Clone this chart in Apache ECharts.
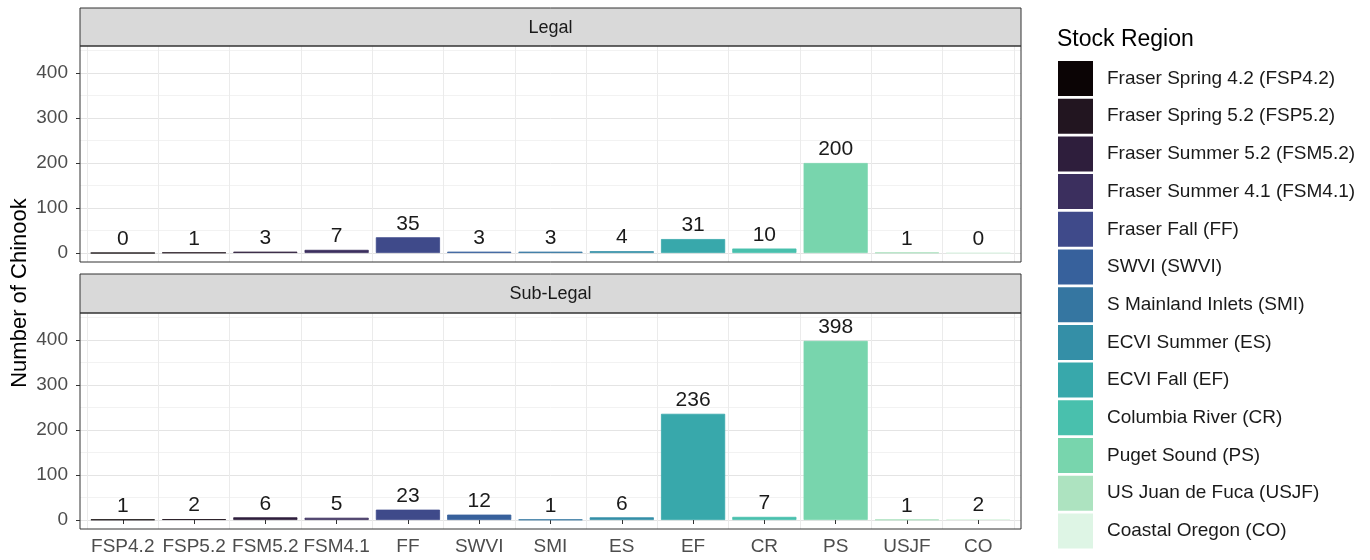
<!DOCTYPE html>
<html>
<head>
<meta charset="utf-8">
<script src="https://cdn.jsdelivr.net/npm/echarts@6/dist/echarts.min.js"></script>
<style>
  html, body { margin: 0; padding: 0; background: #fff; }
  #chartBox { width: 1370px; height: 560px; }
</style>
</head>
<body>
<div id="chartBox"></div>
<script>
// data
const categories = ["FSP4.2", "FSP5.2", "FSM5.2", "FSM4.1", "FF", "SWVI", "SMI", "ES", "EF", "CR", "PS", "USJF", "CO"];
const stockNames = [
  "Fraser Spring 4.2 (FSP4.2)", "Fraser Spring 5.2 (FSP5.2)", "Fraser Summer 5.2 (FSM5.2)",
  "Fraser Summer 4.1 (FSM4.1)", "Fraser Fall (FF)", "SWVI (SWVI)", "S Mainland Inlets (SMI)",
  "ECVI Summer (ES)", "ECVI Fall (EF)", "Columbia River (CR)", "Puget Sound (PS)",
  "US Juan de Fuca (USJF)", "Coastal Oregon (CO)"
];
const legalValues = [0, 1, 3, 7, 35, 3, 3, 4, 31, 10, 200, 1, 0];
const subLegalValues = [1, 2, 6, 5, 23, 12, 1, 6, 236, 7, 398, 1, 2];
const panelNames = ["Legal", "Sub-Legal"];
const yTicks = [0, 100, 200, 300, 400];

// mako-like palette
const colors = ["#0b0405", "#221520", "#2e1e3c", "#3b2f5e", "#3f4a8a", "#37619c", "#3576a1",
  "#348fa7", "#38a8ab", "#49c0ad", "#78d5ad", "#ade3c0", "#def5e5"];

const FONT = "Liberation Sans, Arial, sans-serif";
const panelLeft = 80, panelRight = 1021;
const unit = (panelRight - panelLeft) / 13.2; // ggplot discrete expand 0.6
// panel top / bottom, and pixel of value 0
const panels = [
  { top: 46, bottom: 262, zero: 253, stripTop: 8 },
  { top: 313, bottom: 529, zero: 520, stripTop: 274 },
];
const pxPer = 0.45;

const grids = [], xAxes = [], yAxes = [], series = [], graphics = [];

panels.forEach((pn, p) => {
  // gridlines grid (0..450, major/minor alternating colours)
  grids.push({ left: panelLeft, right: 1370 - panelRight, top: pn.zero - 450 * pxPer, height: 450 * pxPer });
  xAxes.push({ type: "value", gridIndex: p * 3, show: false });
  yAxes.push({
    type: "value", gridIndex: p * 3, min: 0, max: 450, interval: 50,
    axisLine: { show: false }, axisTick: { show: false }, axisLabel: { show: false },
    splitLine: { show: true, lineStyle: { color: ["#e4e4e4", "#f2f2f2"], width: 1 } },
  });
  // label grid (0..400)
  grids.push({ left: panelLeft, right: 1370 - panelRight, top: pn.zero - 400 * pxPer, height: 400 * pxPer });
  xAxes.push({ type: "value", gridIndex: p * 3 + 1, show: false });
  yAxes.push({
    type: "value", gridIndex: p * 3 + 1, min: yTicks[0], max: yTicks[yTicks.length - 1], interval: 100,
    axisLine: { show: false },
    axisTick: { show: true, length: 4, lineStyle: { color: "#333" } },
    axisLabel: { margin: 12, fontSize: 19, color: "#4d4d4d", fontFamily: FONT },
    splitLine: { show: false },
  });
  // bar grid
  grids.push({
    left: panelLeft + unit * 0.1, right: 1370 - panelRight + unit * 0.1,
    top: pn.top, height: pn.bottom - pn.top,
  });
  xAxes.push({
    type: "category", gridIndex: p * 3 + 2, data: categories,
    axisLine: { show: false },
    axisTick: { show: p === 1, alignWithLabel: true, length: 4, lineStyle: { color: "#333" } },
    axisLabel: { show: p === 1, margin: 8, fontSize: 19, color: "#4d4d4d", fontFamily: FONT, interval: 0 },
    splitLine: { show: true, interval: 0, lineStyle: { color: "#ebebeb", width: 1 } },
  });
  yAxes.push({
    type: "value", gridIndex: p * 3 + 2, show: false,
    min: -(pn.bottom - pn.zero) / pxPer, max: (pn.zero - pn.top) / pxPer,
    splitLine: { show: false },
  });

  const vals = p === 0 ? legalValues : subLegalValues;
  categories.forEach((cat, i) => {
    series.push({
      name: stockNames[i],
      type: "bar",
      xAxisIndex: p * 3 + 2,
      yAxisIndex: p * 3 + 2,
      stack: "panel" + p,
      barWidth: "90%",
      data: categories.map((c, j) => (j === i ? vals[i] : "-")),
      itemStyle: { color: colors[i], borderColor: colors[i], borderWidth: 0.8 },
      label: {
        show: true, position: "top", distance: 3,
        fontSize: 21, color: "#1a1a1a", fontFamily: FONT,
      },
      emphasis: { disabled: true },
    });
  });

  // strip
  graphics.push({
    type: "rect", z: 100,
    shape: { x: panelLeft, y: pn.stripTop, width: panelRight - panelLeft, height: pn.top - pn.stripTop },
    style: { fill: "#d9d9d9", stroke: "#333", lineWidth: 1 },
  });
  graphics.push({
    type: "text", z: 101,
    x: (panelLeft + panelRight) / 2, y: (pn.stripTop + pn.top) / 2 + 1,
    style: { text: panelNames[p], fontSize: 18, fill: "#1a1a1a", fontFamily: FONT, textAlign: "center", textVerticalAlign: "middle" },
  });
  // panel border
  graphics.push({
    type: "rect", z: 100,
    shape: { x: panelLeft, y: pn.top, width: panelRight - panelLeft, height: pn.bottom - pn.top },
    style: { fill: "transparent", stroke: "#333", lineWidth: 1 },
  });
});

// y axis title and legend title
graphics.push({
  type: "text", z: 101, x: 20, y: 293, rotation: Math.PI / 2,
  style: { text: "Number of Chinook", fontSize: 22, fill: "#000", fontFamily: FONT, textAlign: "center", textVerticalAlign: "middle" },
});
graphics.push({
  type: "text", z: 101, x: 1057, y: 40,
  style: { text: "Stock Region", fontSize: 23, fill: "#000", fontFamily: FONT, textAlign: "left", textVerticalAlign: "middle" },
});

const chart = echarts.init(document.getElementById("chartBox"));
chart.setOption({
  animation: false,
  backgroundColor: "#fff",
  grid: grids,
  xAxis: xAxes,
  yAxis: yAxes,
  series: series,
  legend: {
    data: stockNames,
    orient: "vertical",
    left: 1058, top: 61,
    padding: 0,
    icon: "rect",
    itemWidth: 35, itemHeight: 35, itemGap: 2.7,
    itemStyle: { borderWidth: 0 },
    selectedMode: false,
    textStyle: { fontSize: 19, color: "#1a1a1a", fontFamily: FONT, padding: [0, 0, 0, 9] },
  },
  graphic: graphics,
});
window.addEventListener("resize", chart.resize);
</script>
</body>
</html>
